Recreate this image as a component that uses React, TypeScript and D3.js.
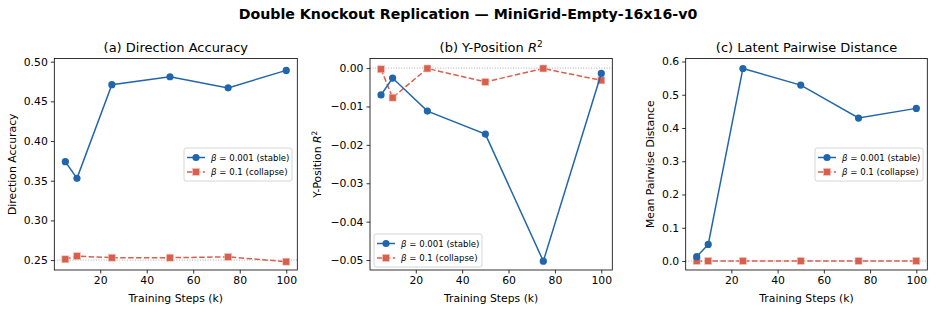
import React, { useEffect, useRef } from 'react';
import * as d3 from 'd3';

// Training steps (k)
const steps = [5, 10, 25, 50, 75, 100];

// (a) Direction accuracy
const dirStable = [0.374, 0.353, 0.471, 0.481, 0.467, 0.489];
const dirCollapse = [0.251, 0.255, 0.253, 0.253, 0.254, 0.248];

// (b) Y-position R^2
const yposStable = [-0.0070, -0.0026, -0.0112, -0.0172, -0.0503, -0.0014];
const yposCollapse = [-0.0003, -0.0077, -0.0001, -0.0036, -0.0001, -0.0032];

// (c) Mean pairwise distance
const distStable = [0.013, 0.050, 0.579, 0.529, 0.430, 0.459];
const distCollapse = [0.0003, 0.0002, 0.0002, 0.0002, 0.0002, 0.0002];

const xTicks = [20, 40, 60, 80, 100];
const dirTicks = [0.25, 0.30, 0.35, 0.40, 0.45, 0.50];
const yposTicks = [0.0, -0.01, -0.02, -0.03, -0.04, -0.05];
const distTicks = [0.0, 0.1, 0.2, 0.3, 0.4, 0.5, 0.6];

const BLUE = '#2166ac';
const RED = '#d6604d';
const FONT = 'DejaVu Sans, sans-serif';

const App = () => {
  const svgRef = useRef<SVGSVGElement>(null);

  useEffect(() => {
    const svg = d3.select(svgRef.current);
    svg.selectAll('*').remove();

    svg.append('text')
      .attr('x', 468).attr('y', 19)
      .attr('text-anchor', 'middle')
      .attr('font-family', FONT).attr('font-size', 14.2).attr('font-weight', 'bold')
      .text('Double Knockout Replication \u2014 MiniGrid-Empty-16x16-v0');

    const panels = [
      {
        left: 54.3, right: 297.3, domain: [0.2375, 0.504], ticks: dirTicks, fmt: d3.format('.2f'),
        stable: dirStable, collapse: dirCollapse, ref: 0.25,
        title: ['(a) Direction Accuracy'], ylabel: ['Direction Accuracy'], ylabelX: 12,
        legend: { x: 184, y: 148 },
      },
      {
        left: 370, right: 612.3, domain: [-0.0526, 0.0025], ticks: yposTicks, fmt: (v: number) => d3.format('.2f')(v).replace('-', '\u2212'),
        stable: yposStable, collapse: yposCollapse, ref: 0,
        title: ['(b) Y-Position ', 'R', '2'], ylabel: ['Y-Position ', 'R', '2'], ylabelX: 317,
        legend: { x: 374, y: 234 },
      },
      {
        left: 685.7, right: 927.3, domain: [-0.027, 0.609], ticks: distTicks, fmt: d3.format('.1f'),
        stable: distStable, collapse: distCollapse, ref: 0,
        title: ['(c) Latent Pairwise Distance'], ylabel: ['Mean Pairwise Distance'], ylabelX: 650,
        legend: { x: 815, y: 148 },
      },
    ];

    const top = 58.5;
    const bottom = 270;

    panels.forEach(p => {
      const x = d3.scaleLinear().domain([0.25, 104.75]).range([p.left, p.right]);
      const y = d3.scaleLinear().domain(p.domain).range([bottom, top]);
      const g = svg.append('g');

      // reference dotted line
      g.append('line')
        .attr('x1', p.left).attr('x2', p.right)
        .attr('y1', y(p.ref)).attr('y2', y(p.ref))
        .attr('stroke', '#999').attr('stroke-width', 0.8).attr('stroke-dasharray', '1,1.6');

      // axes
      const xAxis = g.append('g')
        .attr('transform', `translate(0,${bottom})`)
        .call(d3.axisBottom(x).tickValues(xTicks).tickSize(3.5).tickPadding(3).tickFormat(d3.format('d')));
      const yAxis = g.append('g')
        .attr('transform', `translate(${p.left},0)`)
        .call(d3.axisLeft(y).tickValues(p.ticks).tickSize(3.5).tickPadding(3).tickFormat(p.fmt as any));
      [xAxis, yAxis].forEach(a => {
        a.select('.domain').remove();
        a.selectAll('text').attr('font-family', FONT).attr('font-size', 10.8).attr('fill', '#000');
        a.selectAll('line').attr('stroke', '#000').attr('stroke-width', 0.8);
      });

      g.append('rect')
        .attr('x', p.left).attr('y', top)
        .attr('width', p.right - p.left).attr('height', bottom - top)
        .attr('fill', 'none').attr('stroke', '#000').attr('stroke-width', 0.8);

      // series
      const line = d3.line<number>().x((d, i) => x(steps[i])).y(d => y(d));
      g.append('path').datum(p.collapse)
        .attr('d', line).attr('fill', 'none')
        .attr('stroke', RED).attr('stroke-width', 1.5).attr('stroke-dasharray', '5.5,2.4');
      g.selectAll('.sq').data(p.collapse).enter().append('rect')
        .attr('x', (d, i) => x(steps[i]) - 3.5).attr('y', d => y(d) - 3.5)
        .attr('width', 7).attr('height', 7)
        .attr('fill', RED).attr('stroke', '#f3c7bf').attr('stroke-width', 0.6);

      g.append('path').datum(p.stable)
        .attr('d', line).attr('fill', 'none')
        .attr('stroke', BLUE).attr('stroke-width', 1.5);
      g.selectAll('.dot').data(p.stable).enter().append('circle')
        .attr('cx', (d, i) => x(steps[i])).attr('cy', d => y(d))
        .attr('r', 3.6).attr('fill', BLUE);

      // title
      const cx = (p.left + p.right) / 2;
      const t = g.append('text')
        .attr('x', cx).attr('y', 52)
        .attr('text-anchor', 'middle')
        .attr('font-family', FONT).attr('font-size', 13);
      t.append('tspan').text(p.title[0]);
      if (p.title.length > 1) {
        t.append('tspan').attr('font-style', 'italic').text(p.title[1]);
        t.append('tspan').attr('font-size', 9).attr('dy', -5).text(p.title[2]);
      }

      // x label
      g.append('text')
        .attr('x', cx).attr('y', 302)
        .attr('text-anchor', 'middle')
        .attr('font-family', FONT).attr('font-size', 10.8)
        .text('Training Steps (k)');

      // y label
      const yl = g.append('text')
        .attr('transform', `translate(${p.ylabelX},${(top + bottom) / 2}) rotate(-90)`)
        .attr('text-anchor', 'middle').attr('dy', '0.35em')
        .attr('font-family', FONT).attr('font-size', 10.8);
      yl.append('tspan').text(p.ylabel[0]);
      if (p.ylabel.length > 1) {
        yl.append('tspan').attr('font-style', 'italic').text(p.ylabel[1]);
        yl.append('tspan').attr('font-size', 7.5).attr('dy', -4).text(p.ylabel[2]);
      }

      // legend
      const lg = g.append('g').attr('transform', `translate(${p.legend.x},${p.legend.y})`);
      lg.append('rect')
        .attr('width', 108).attr('height', 33).attr('rx', 2)
        .attr('fill', 'white').attr('fill-opacity', 0.8)
        .attr('stroke', '#ccc').attr('stroke-width', 0.8);
      const items = [
        { color: BLUE, dash: null, val: '0.001 (stable)', shape: 'circle' },
        { color: RED, dash: '5.5,2.4', val: '0.1 (collapse)', shape: 'square' },
      ];
      items.forEach((it, i) => {
        const ry = 9.5 + i * 14.4;
        lg.append('line')
          .attr('x1', 3).attr('x2', 21).attr('y1', ry).attr('y2', ry)
          .attr('stroke', it.color).attr('stroke-width', 1.5)
          .attr('stroke-dasharray', it.dash);
        if (it.shape === 'circle') {
          lg.append('circle').attr('cx', 12).attr('cy', ry).attr('r', 3.6).attr('fill', it.color);
        } else {
          lg.append('rect').attr('x', 8.5).attr('y', ry - 3.5).attr('width', 7).attr('height', 7)
            .attr('fill', it.color).attr('stroke', '#f3c7bf').attr('stroke-width', 0.6);
        }
        const tx = lg.append('text')
          .attr('x', 27).attr('y', ry).attr('dy', '0.35em')
          .attr('font-family', FONT).attr('font-size', 8.6);
        tx.append('tspan').attr('font-style', 'italic').text('\u03b2');
        tx.append('tspan').text(' = ' + it.val);
      });
    });
  }, []);

  return (
    <svg ref={svgRef} width={936} height={312}
      style={{ position: 'absolute', left: 0, top: 0, background: 'white' }} />
  );
};

export default App;
